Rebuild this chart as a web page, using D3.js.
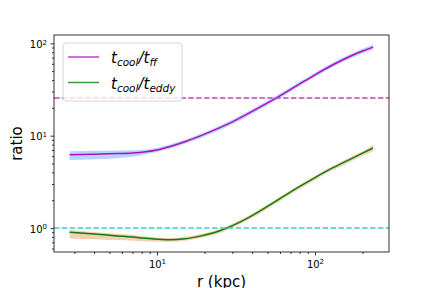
<!DOCTYPE html>
<html>
<head>
<meta charset="utf-8">
<script src="https://cdn.jsdelivr.net/npm/d3@7"></script>
<style>
  body { margin: 0; background: #fff; }
  svg { display: block; font-family: "DejaVu Sans", sans-serif; }
</style>
</head>
<body>
<div id="chart"></div>
<script>
// radius (kpc)
const radius = [2.8, 4, 5.6, 7, 8.5, 10, 12, 15, 19, 25, 30, 40, 57, 80, 100, 130, 170, 200, 233];

// t_cool / t_ff  (median + band)
const tff   = [6.2, 6.3, 6.4, 6.5, 6.7, 7.0, 7.6, 8.6, 10.0, 12.2, 14.1, 18.3, 25.6, 36.3, 45.6, 58.6, 73.3, 82.4, 91];
const tffLo = [5.45, 5.55, 5.7, 5.9, 6.3, 6.65, 7.2, 8.15, 9.45, 11.5, 13.3, 17.3, 24.2, 34.3, 43.1, 55.3, 69.2, 77.6, 85.5];
const tffHi = [6.8, 6.85, 6.9, 6.95, 7.1, 7.35, 8.0, 9.05, 10.55, 12.9, 14.9, 19.3, 27.0, 38.3, 48.1, 61.9, 77.5, 87.4, 97];

// t_cool / t_eddy (median + band)
const teddy   = [0.90, 0.86, 0.822, 0.80, 0.774, 0.757, 0.746, 0.764, 0.822, 0.933, 1.062, 1.365, 1.97, 2.82, 3.52, 4.5, 5.65, 6.46, 7.35];
const teddyLo = [0.77, 0.755, 0.74, 0.73, 0.72, 0.715, 0.71, 0.728, 0.78, 0.885, 1.005, 1.29, 1.86, 2.66, 3.32, 4.24, 5.3, 6.05, 6.8];
const teddyHi = [0.95, 0.905, 0.865, 0.84, 0.81, 0.79, 0.78, 0.8, 0.86, 0.975, 1.11, 1.43, 2.06, 2.94, 3.66, 4.68, 5.9, 6.78, 7.9];

// horizontal reference levels
const refLevels = [25.5, 1];
const majorX = [10, 100];
const majorY = [1, 10, 100];

const width = 432, height = 288;
const margin = { left: 54, right: 43, top: 35, bottom: 36 };
const w = width - margin.left - margin.right;
const h = height - margin.top - margin.bottom;

const svg = d3.select("#chart").append("svg")
  .attr("width", width)
  .attr("height", height);

const x = d3.scaleLog().domain([2.23, 294]).range([0, w]);
const y = d3.scaleLog().domain([0.55, 123]).range([h, 0]);

const g = svg.append("g").attr("transform", `translate(${margin.left},${margin.top})`);

const rows = radius.map((r, i) => ({
  r: r, tff: tff[i], tffLo: tffLo[i], tffHi: tffHi[i],
  ted: teddy[i], tedLo: teddyLo[i], tedHi: teddyHi[i]
}));

// bands
const band = (lo, hi) => d3.area()
  .x(d => x(d.r)).y0(d => y(d[lo])).y1(d => y(d[hi]))
  .curve(d3.curveMonotoneX);

g.append("path").datum(rows).attr("d", band("tffLo", "tffHi"))
  .attr("fill", "#a4ccf6").attr("opacity", 0.8);
g.append("path").datum(rows).attr("d", band("tedLo", "tedHi"))
  .attr("fill", "#f0c4a0").attr("opacity", 0.8);

// lines
const line = key => d3.line().x(d => x(d.r)).y(d => y(d[key])).curve(d3.curveMonotoneX);

g.append("path").datum(rows).attr("d", line("tff"))
  .attr("fill", "none").attr("stroke", "#b40ac8").attr("stroke-width", 1.5);
g.append("path").datum(rows).attr("d", line("ted"))
  .attr("fill", "none").attr("stroke", "#0a7d0a").attr("stroke-width", 1.5);

// dashed reference lines
g.selectAll(".ref").data(refLevels).enter().append("line")
  .attr("x1", 0).attr("x2", w)
  .attr("y1", d => y(d)).attr("y2", d => y(d))
  .attr("stroke", (d, i) => i === 0 ? "#c83ccc" : "#3ccccc")
  .attr("stroke-width", 1.5)
  .attr("stroke-dasharray", "5.5,2.4");

// minor tick values
const minors = (lo, hi) => {
  const out = [];
  for (let e = lo; e <= hi; e++)
    for (let k = 2; k <= 9; k++) out.push(k * Math.pow(10, e));
  return out;
};
const minX = minors(0, 2).filter(v => v > x.domain()[0] && v < x.domain()[1]);
const minY = minors(-1, 2).filter(v => v > y.domain()[0] && v < y.domain()[1]);

function styleAxis(sel) {
  sel.select(".domain").remove();
  sel.selectAll("line").attr("stroke", "#000").attr("stroke-width", 0.8);
}

// x axis
const gx = g.append("g").attr("transform", `translate(0,${h})`)
  .call(d3.axisBottom(x).tickValues(majorX).tickSize(3.5).tickPadding(3.5).tickSizeOuter(0));
g.append("g").attr("transform", `translate(0,${h})`)
  .call(d3.axisBottom(x).tickValues(minX).tickSize(2).tickFormat("").tickSizeOuter(0))
  .call(styleAxis);
gx.call(styleAxis);

// y axis
const gy = g.append("g")
  .call(d3.axisLeft(y).tickValues(majorY).tickSize(3.5).tickPadding(3.5).tickSizeOuter(0));
g.append("g")
  .call(d3.axisLeft(y).tickValues(minY).tickSize(2).tickFormat("").tickSizeOuter(0))
  .call(styleAxis);
gy.call(styleAxis);

// power-of-ten tick labels
[gx, gy].forEach(ax => {
  ax.selectAll(".tick text").each(function(d) {
    const t = d3.select(this);
    t.text("10").attr("fill", "#000").attr("font-size", 10)
      .attr("font-family", "DejaVu Sans, sans-serif");
    t.append("tspan").text(Math.round(Math.log10(d)))
      .attr("font-size", 7).attr("dy", "-0.45em");
  });
});
gy.selectAll(".tick text").attr("dy", "0.4em");
gx.selectAll(".tick text").attr("dy", "0.85em");

// frame
g.append("rect").attr("width", w).attr("height", h)
  .attr("fill", "none").attr("stroke", "#000").attr("stroke-width", 0.8);

// axis labels
svg.append("text")
  .attr("transform", `translate(22,${margin.top + h / 2}) rotate(-90)`)
  .attr("text-anchor", "middle").attr("font-size", 15).text("ratio");
svg.append("text")
  .attr("x", margin.left + w / 2).attr("y", 287)
  .attr("text-anchor", "middle").attr("font-size", 15).text("r (kpc)");

// legend
const legend = g.append("g").attr("transform", "translate(9,8)");
legend.append("rect")
  .attr("width", 119).attr("height", 58).attr("rx", 3)
  .attr("fill", "#fff").attr("fill-opacity", 0.8)
  .attr("stroke", "#ccc").attr("stroke-width", 0.8);

const entries = [
  { sub: "ff", color: "#c040c8" },
  { sub: "eddy", color: "#3c983c" }
];
entries.forEach((e, i) => {
  const yy = 14 + i * 25.5;
  legend.append("line")
    .attr("x1", 5).attr("x2", 36).attr("y1", yy).attr("y2", yy)
    .attr("stroke", e.color).attr("stroke-width", 1.5);
  const t = legend.append("text")
    .attr("x", 48).attr("y", yy + 6)
    .attr("font-size", 15).attr("font-style", "italic");
  t.append("tspan").text("t");
  t.append("tspan").text("cool").attr("font-size", 10.5).attr("dy", 3);
  t.append("tspan").text("/t").attr("dy", -3);
  t.append("tspan").text(e.sub).attr("font-size", 10.5).attr("dy", 3);
});
</script>
</body>
</html>
